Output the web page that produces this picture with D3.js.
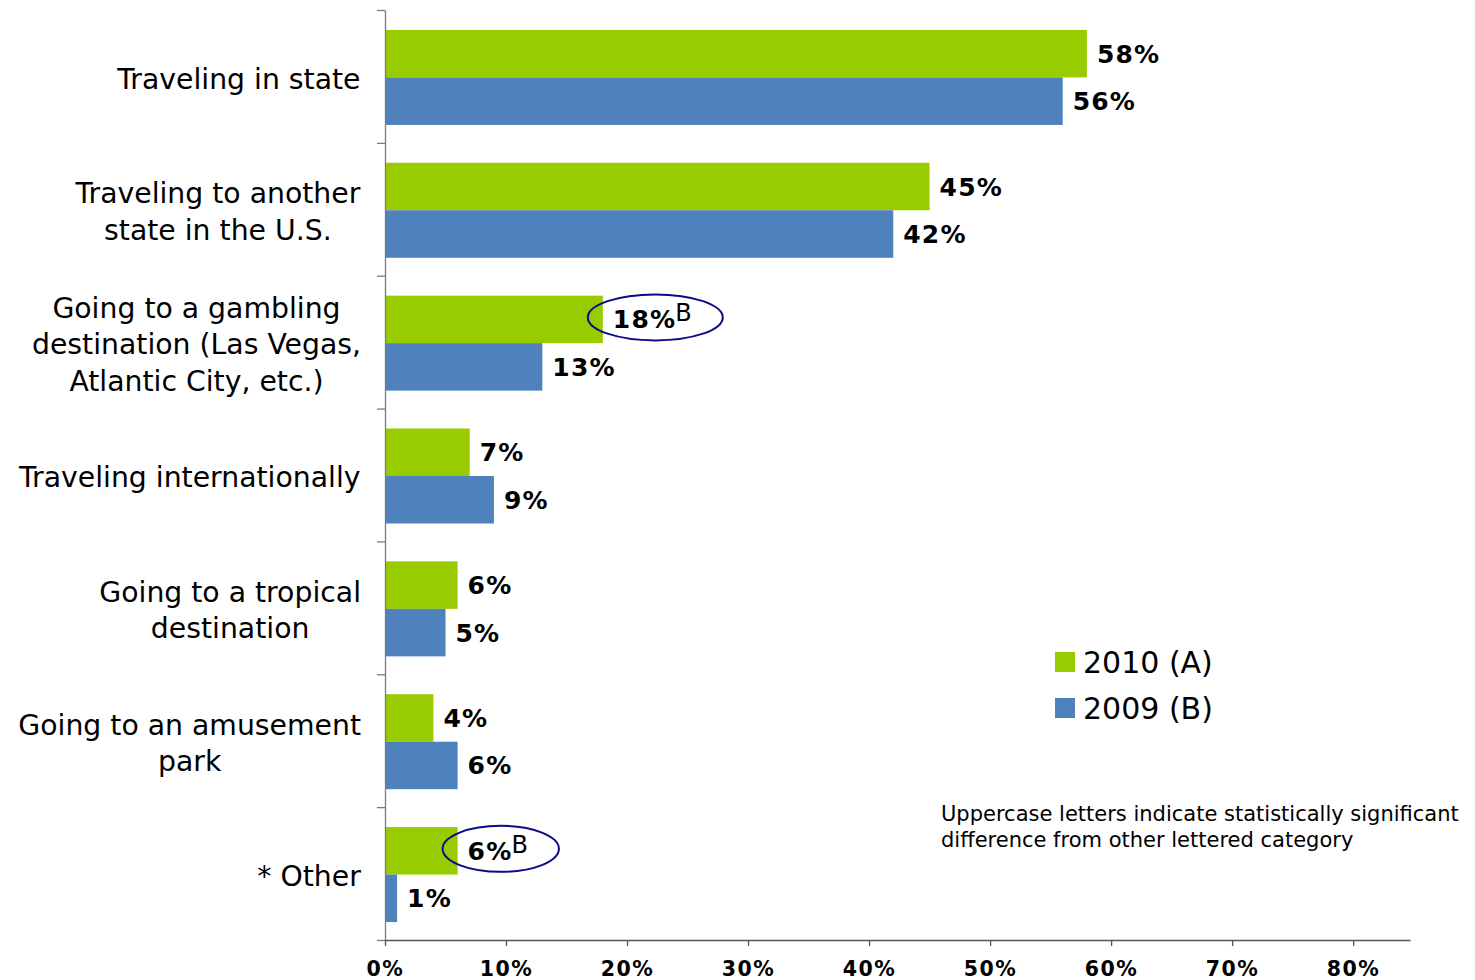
<!DOCTYPE html>
<html>
<head>
<meta charset="utf-8">
<script src="https://cdn.jsdelivr.net/npm/d3@7"></script>
<style>
  html, body { margin: 0; padding: 0; background: #fff; }
  svg { display: block; }
  text { font-family: "DejaVu Sans", Verdana, sans-serif; fill: #000; }
</style>
</head>
<body>
<svg id="chart" width="1475" height="980"></svg>
<script>
// ---- data ----
const categories = [
  ["Traveling in state"],
  ["Traveling to another", "state in the U.S."],
  ["Going to a gambling", "destination (Las Vegas,", "Atlantic City, etc.)"],
  ["Traveling internationally"],
  ["Going to a tropical", "destination"],
  ["Going to an amusement", "park"],
  ["* Other"]
];
const seriesNames = ["2010 (A)", "2009 (B)"];
const values2010 = [0.58, 0.45, 0.18, 0.07, 0.06, 0.04, 0.06];
const values2009 = [0.56, 0.42, 0.13, 0.09, 0.05, 0.06, 0.01];
const sigLetters2010 = ["", "", "B", "", "", "", "B"];
const xTicks = [0, 0.1, 0.2, 0.3, 0.4, 0.5, 0.6, 0.7, 0.8];
const noteLines = ["Uppercase letters indicate statistically significant",
                   "difference from other lettered category"];
const colors = ["#99CC00", "#4F81BD"];

// ---- layout ----
const svg = d3.select("#chart");
const x0 = 385, xEnd = 1410, yTop = 10, yBot = 940;
const x = d3.scaleLinear().domain([0, 0.847]).range([x0, xEnd]);
const idx = d3.range(categories.length);
const y = d3.scaleBand().domain(idx).range([yTop, yBot]).padding(0);
const yLin = d3.scaleLinear().domain([0, categories.length]).range([yTop, yBot]);
const band = y.bandwidth();
const inner = d3.scaleBand().domain([0, 1]).range([band * 0.15, band * 0.865]).padding(0);

const seriesVals = [values2010, values2009];

// bars
const g = svg.append("g");
seriesVals.forEach((vals, s) => {
  g.selectAll(".bar" + s).data(vals).join("rect")
    .attr("x", x(0))
    .attr("y", (d, i) => y(i) + inner(s))
    .attr("width", d => x(d) - x(0))
    .attr("height", inner.bandwidth())
    .attr("fill", colors[s]);
});

// value labels
const fmt = d3.format(".0%");
seriesVals.forEach((vals, s) => {
  vals.forEach((v, i) => {
    const cy = y(i) + inner(s) + inner.bandwidth() / 2;
    const t = g.append("text")
      .attr("x", x(v) + 10)
      .attr("y", cy)
      .attr("dy", "0.36em")
      .attr("font-size", 25)
      .attr("font-weight", "bold")
      .attr("letter-spacing", "1.2px")
      .text(fmt(v));
    if (s === 0 && sigLetters2010[i]) {
      t.append("tspan")
        .attr("font-weight", "normal")
        .attr("letter-spacing", "0px")
        .attr("font-size", 24)
        .attr("dy", "-0.3em")
        .attr("dx", "-1")
        .text(sigLetters2010[i]);
      const bb = t.node().getBBox();
      g.append("ellipse")
        .attr("cx", bb.x + bb.width / 2 + 3)
        .attr("cy", cy - 2)
        .attr("rx", bb.width / 2 + 28)
        .attr("ry", 23)
        .attr("fill", "none")
        .attr("stroke", "#0b0b8a")
        .attr("stroke-width", 2);
    }
  });
});

// y axis
const yAxis = svg.append("g").attr("transform", `translate(${x0},0)`)
  .call(d3.axisLeft(yLin).tickValues(d3.range(categories.length + 1)).tickSize(8).tickSizeOuter(0).tickFormat(""));
yAxis.selectAll("path, line").attr("stroke", "#7a7a7a").attr("stroke-width", 1.3);

// x axis
const xAxis = svg.append("g").attr("transform", `translate(0,${yBot})`)
  .call(d3.axisBottom(x).tickValues(xTicks).tickSizeInner(6).tickSizeOuter(0).tickFormat(fmt));
xAxis.selectAll("path, line").attr("stroke", "#555").attr("stroke-width", 1.3);
xAxis.selectAll("text")
  .attr("font-size", 20.5).attr("font-weight", "bold").attr("letter-spacing", "1.5px")
  .attr("font-family", "DejaVu Sans, Verdana, sans-serif")
  .attr("fill", "#000").attr("y", 36).attr("dy", "0");

// category labels
const lineH = 36.5;
categories.forEach((lines, i) => {
  const cy = y(i) + band / 2 + 2;
  const t = svg.append("text").attr("font-size", 28.3).attr("text-anchor", "middle");
  const n = lines.length;
  lines.forEach((ln, k) => {
    t.append("tspan").attr("x", 0).attr("y", cy + (k - (n - 1) / 2) * lineH).attr("dy", "0.36em").text(ln);
  });
  const w = t.node().getBBox().width;
  t.attr("transform", `translate(${361 - w / 2},0)`);
});

// legend
const legend = svg.append("g");
seriesNames.forEach((name, s) => {
  const ly = 652 + s * 46;
  legend.append("rect").attr("x", 1055).attr("y", ly).attr("width", 20).attr("height", 20).attr("fill", colors[s]);
  legend.append("text").attr("x", 1083).attr("y", ly + 10).attr("dy", "0.36em")
    .attr("font-size", 30).text(name);
});

// note
noteLines.forEach((ln, k) => {
  svg.append("text").attr("x", 941).attr("y", 821 + k * 26).attr("font-size", 21).text(ln);
});
</script>
</body>
</html>
